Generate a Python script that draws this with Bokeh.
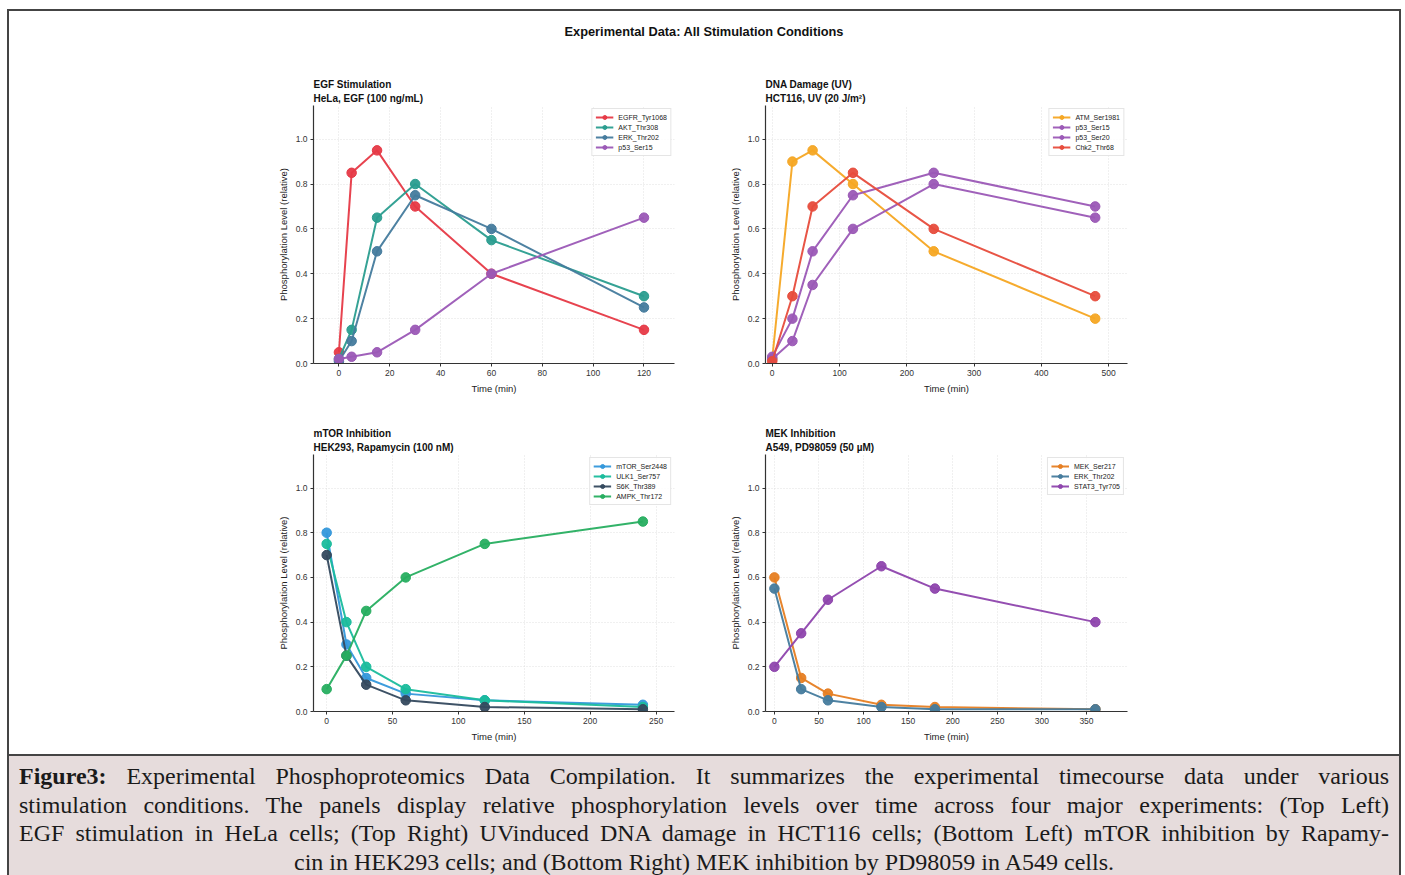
from bokeh.plotting import figure
from bokeh.layouts import column, row
from bokeh.models import Div, Title, FixedTicker, PrintfTickFormatter, Range1d
from bokeh.embed import file_html
from bokeh.resources import INLINE

FONT = "Liberation Sans"

# ---------------- data ----------------
egf_time = [0, 5, 15, 30, 60, 120]
egf_labels = ["EGFR_Tyr1068", "AKT_Thr308", "ERK_Thr202", "p53_Ser15"]
egf_egfr = [0.05, 0.85, 0.95, 0.70, 0.40, 0.15]
egf_akt = [0.02, 0.15, 0.65, 0.80, 0.55, 0.30]
egf_erk = [0.01, 0.10, 0.50, 0.75, 0.60, 0.25]
egf_p53 = [0.02, 0.03, 0.05, 0.15, 0.40, 0.65]
egf_colors = ["#e63946", "#2a9d8f", "#457b9d", "#9b59b6"]

uv_time = [0, 30, 60, 120, 240, 480]
uv_labels = ["ATM_Ser1981", "p53_Ser15", "p53_Ser20", "Chk2_Thr68"]
uv_atm = [0.02, 0.90, 0.95, 0.80, 0.50, 0.20]
uv_p53s15 = [0.03, 0.20, 0.50, 0.75, 0.85, 0.70]
uv_p53s20 = [0.02, 0.10, 0.35, 0.60, 0.80, 0.65]
uv_chk2 = [0.01, 0.30, 0.70, 0.85, 0.60, 0.30]
uv_colors = ["#f5a623", "#9b59b6", "#9b59b6", "#e74c3c"]

mtor_time = [0, 15, 30, 60, 120, 240]
mtor_labels = ["mTOR_Ser2448", "ULK1_Ser757", "S6K_Thr389", "AMPK_Thr172"]
mtor_mtor = [0.80, 0.30, 0.15, 0.08, 0.05, 0.03]
mtor_ulk1 = [0.75, 0.40, 0.20, 0.10, 0.05, 0.02]
mtor_s6k = [0.70, 0.25, 0.12, 0.05, 0.02, 0.01]
mtor_ampk = [0.10, 0.25, 0.45, 0.60, 0.75, 0.85]
mtor_colors = ["#3498db", "#1abc9c", "#34495e", "#27ae60"]

mek_time = [0, 30, 60, 120, 180, 360]
mek_labels = ["MEK_Ser217", "ERK_Thr202", "STAT3_Tyr705"]
mek_mek = [0.60, 0.15, 0.08, 0.03, 0.02, 0.01]
mek_erk = [0.55, 0.10, 0.05, 0.02, 0.01, 0.01]
mek_stat3 = [0.20, 0.35, 0.50, 0.65, 0.55, 0.40]
mek_colors = ["#e67e22", "#457b9d", "#8e44ad"]

y_ticks = [0.0, 0.2, 0.4, 0.6, 0.8, 1.0]
egf_xticks = [0, 20, 40, 60, 80, 100, 120]
uv_xticks = [0, 100, 200, 300, 400, 500]
mtor_xticks = [0, 50, 100, 150, 200, 250]
mek_xticks = [0, 50, 100, 150, 200, 250, 300, 350]

main_title = "Experimental Data: All Stimulation Conditions"
caption_lines = [
    "<b>Figure3:</b> Experimental Phosphoproteomics Data Compilation. It summarizes the experimental timecourse data under various",
    "stimulation conditions. The panels display relative phosphorylation levels over time across four major experiments: (Top Left)",
    "EGF stimulation in HeLa cells; (Top Right) UVinduced DNA damage in HCT116 cells; (Bottom Left) mTOR inhibition by Rapamy-",
    "cin in HEK293 cells; and (Bottom Right) MEK inhibition by PD98059 in A549 cells.",
]


def make_panel(t1, t2, times, series, labels, colors, xr, xticks,
               width, height, bl, br, bt, bb):
    p = figure(width=width, height=height, x_range=Range1d(*xr),
               y_range=Range1d(0, 1.15), output_backend="svg",
               toolbar_location=None, min_border_left=bl,
               min_border_right=br, min_border_top=bt, min_border_bottom=bb,
               background_fill_color="white", border_fill_color="white")
    p.outline_line_color = None
    # outer (top) title line
    p.title.text = t1
    p.title.text_font = FONT
    p.title.text_font_size = "10px"
    p.title.text_font_style = "bold"
    p.title.align = "left"
    p.title.standoff = 0
    p.title.text_color = "#111111"
    # inner title line (closest to the frame)
    tt = Title(text=t2, text_font=FONT, text_font_size="10px",
               text_font_style="bold", align="left", standoff=3,
               text_color="#111111")
    p.add_layout(tt, "above")

    for vals, lab, col in zip(series, labels, colors):
        p.line(times, vals, line_color=col, line_width=2, line_alpha=0.95,
               legend_label=lab)
        p.scatter(times, vals, size=9.5, fill_color=col, line_color=col,
                  fill_alpha=0.95, legend_label=lab)

    for ax in (p.xaxis[0], p.yaxis[0]):
        ax.axis_line_color = "#333333"
        ax.axis_line_width = 1.2
        ax.major_tick_line_color = "#333333"
        ax.major_tick_in = 0
        ax.major_tick_out = 3
        ax.minor_tick_line_color = None
        ax.major_label_text_font = FONT
        ax.major_label_text_font_size = "8.5px"
        ax.major_label_text_color = "#333333"
        ax.axis_label_text_font = FONT
        ax.axis_label_text_font_style = "normal"
        ax.axis_label_text_font_size = "9.5px"
        ax.axis_label_text_color = "#222222"
        ax.major_label_standoff = 3
        ax.axis_label_standoff = 4
    p.xaxis[0].ticker = FixedTicker(ticks=xticks)
    p.yaxis[0].ticker = FixedTicker(ticks=y_ticks)
    p.yaxis[0].formatter = PrintfTickFormatter(format="%.1f")
    p.xaxis[0].axis_label = "Time (min)"
    p.yaxis[0].axis_label = "Phosphorylation Level (relative)"

    for g in (p.xgrid[0], p.ygrid[0]):
        g.grid_line_color = "#d9d9d9"
        g.grid_line_dash = "1 2"
        g.grid_line_width = 0.8

    lg = p.legend[0]
    lg.location = "top_right"
    lg.label_text_font = FONT
    lg.label_text_font_size = "7px"
    lg.label_text_color = "#222222"
    lg.label_height = 10
    lg.glyph_height = 10
    lg.glyph_width = 18
    lg.label_standoff = 5
    lg.spacing = 0
    lg.padding = 3
    lg.margin = 3
    lg.border_line_color = "#cccccc"
    lg.border_line_width = 1
    lg.background_fill_alpha = 0.85
    return p


p_egf = make_panel("EGF Stimulation", "HeLa, EGF (100 ng/mL)", egf_time,
                   [egf_egfr, egf_akt, egf_erk, egf_p53], egf_labels, egf_colors,
                   (-10, 132), egf_xticks, 697, 350, 304, 32, 44, 48)
p_uv = make_panel("DNA Damage (UV)", "HCT116, UV (20 J/m²)", uv_time,
                  [uv_atm, uv_p53s15, uv_p53s20, uv_chk2], uv_labels, uv_colors,
                  (-10, 528), uv_xticks, 693, 350, 59, 272, 44, 48)
p_mtor = make_panel("mTOR Inhibition", "HEK293, Rapamycin (100 nM)", mtor_time,
                    [mtor_mtor, mtor_ulk1, mtor_s6k, mtor_ampk], mtor_labels,
                    mtor_colors, (-10, 264), mtor_xticks, 697, 343, 304, 32, 43, 43)
p_mek = make_panel("MEK Inhibition", "A549, PD98059 (50 µM)", mek_time,
                   [mek_mek, mek_erk, mek_stat3], mek_labels, mek_colors,
                   (-10, 396), mek_xticks, 693, 343, 59, 272, 43, 43)

title_div = Div(
    text=(f'<div style="width:1390px;height:50px;box-sizing:border-box;'
          f'padding-top:12px;text-align:center;font-family:\'{FONT}\';'
          f'font-weight:bold;font-size:12.8px;color:#111;">{main_title}</div>'),
    width=1390, height=50, margin=0)

line_html = []
for i, ln in enumerate(caption_lines):
    if i < len(caption_lines) - 1:
        st = "text-align:justify;text-align-last:justify;"
    else:
        st = "text-align:center;"
    line_html.append(f'<div style="{st}height:28.5px;line-height:28.5px;">{ln}</div>')
caption_div = Div(
    text=('<div style="width:1390px;height:121px;box-sizing:border-box;'
          'border-top:2px solid #444;background:#e6dcdc;padding:6px 10px 0 10px;'
          "font-family:'Liberation Serif';font-size:24px;color:#1a1a1a;"
          'overflow:hidden;">' + "".join(line_html) + '</div>'),
    width=1390, height=121, margin=0)

layout = column(
    title_div,
    row(p_egf, p_uv, spacing=0),
    row(p_mtor, p_mek, spacing=0),
    caption_div,
    spacing=0,
    margin=(9, 0, 0, 7),
    styles={"border-top": "2px solid #444", "border-left": "2px solid #444",
            "border-right": "2px solid #444", "background": "white"},
)

open("out.html", "w").write(file_html(layout, INLINE))
